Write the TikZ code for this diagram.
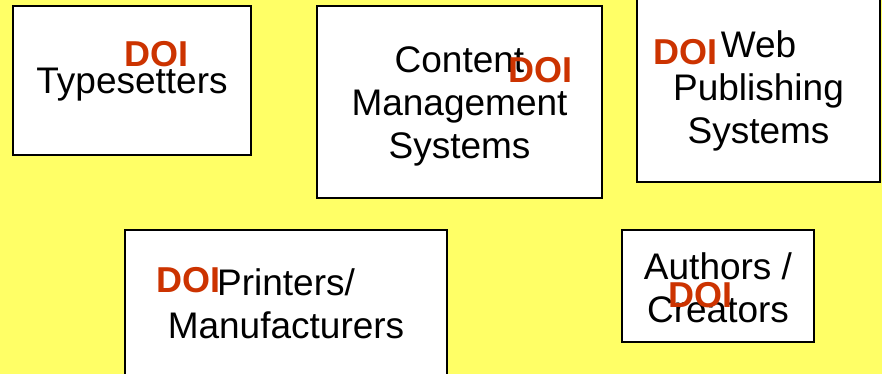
\documentclass[tikz,border=0pt]{standalone}
\usepackage{fontspec}
\setmainfont{Liberation Sans}
\definecolor{bgyellow}{RGB}{255,255,102}
\definecolor{doired}{RGB}{204,51,0}

\begin{document}
\begin{tikzpicture}[x=0.5pt, y=-0.5pt,
		box/.style={draw, rectangle, fill=white, line width=1pt, inner sep=0pt, outer sep=0pt},
		words/.style={align=center, font=\fontsize{18.5}{21.5}\selectfont, inner sep=0pt, anchor=base},
		doi/.style={text=doired, font=\fontsize{18}{21.5}\selectfont\bfseries, inner sep=0pt, anchor=base west}]
			\fill[bgyellow] (0,0) rectangle (882,374);
			\useasboundingbox (0,0) rectangle (882,374);
			\clip (0,0) rectangle (882,374);
			\node[box, minimum width=119pt, minimum height=74.5pt] (Typ) at (132,80.5) {};
			\node[box, minimum width=142.5pt, minimum height=96pt] (CMS) at (459.5,102) {};
			\node[box, minimum width=121.5pt, minimum height=96pt] (Web) at (758.5,86) {};
			\node[box, minimum width=161pt, minimum height=75pt] (Print) at (286,305) {};
			\node[box, minimum width=96pt, minimum height=56pt] (Auth) at (717.5,286) {};
			\node[words] (TypText) at (132,94) {Typesetters};
			\node[words] (CMSText) at (459.5,158) {Content\\Management\\Systems};
			\node[words] (WebText) at (758.5,143) {Web\\Publishing\\Systems};
			\node[words] (PrintText) at (286,338) {Printers/\\Manufacturers};
			\node[words] (AuthText) at (718,322) {Authors /\\Creators};
			\node[doi] (TypDOI) at (124,67) {DOI};
			\node[doi] (CMSDOI) at (508,83) {DOI};
			\node[doi] (WebDOI) at (653,65) {DOI};
			\node[doi] (PrintDOI) at (156,292) {DOI};
			\node[doi] (AuthDOI) at (668,307) {DOI};
		\end{tikzpicture}
\end{document}
